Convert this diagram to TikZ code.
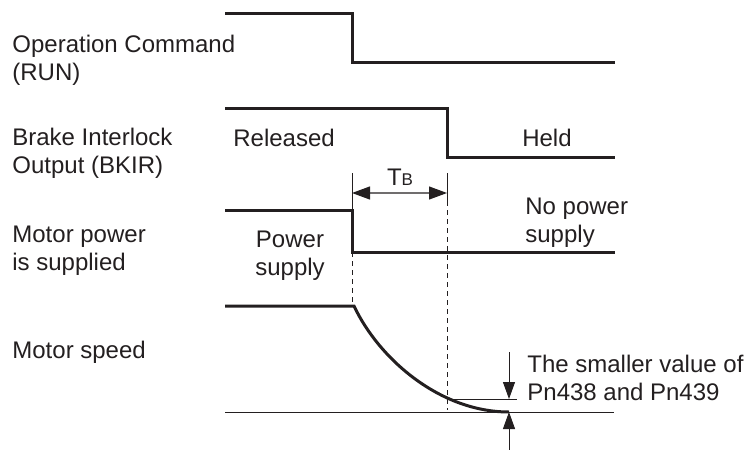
\documentclass[tikz,border=0pt]{standalone}
\usepackage{fontspec}
\setmainfont{Liberation Sans}
\usetikzlibrary{arrows.meta,positioning}
\definecolor{ink}{RGB}{35,31,32}

\begin{document}
\begin{tikzpicture}[x=0.5pt,y=-0.5pt,
    sig/.style={draw=ink,line width=1.5pt},
    fine/.style={draw=ink,line width=0.5pt},
    guide/.style={draw=ink,line width=0.5pt,dash pattern=on 2.5pt off 2pt},
    lbl/.style={font=\fontsize{12}{14}\selectfont,text=ink,
                inner sep=0pt,align=left,anchor=base west},
    tip/.style={-{Triangle[length=8.5pt,width=6pt,color=ink,fill=ink]}},
    span/.style={draw=ink!65,line width=0.6pt,
                 {Triangle[length=9pt,width=6.5pt,color=ink,fill=ink]}-{Triangle[length=9pt,width=6.5pt,color=ink,fill=ink]}}]
  \useasboundingbox (0,0) rectangle (745,450);

  % signal names (base = last line)
  \node[lbl] (cmd) at (12,80) {Operation Command\\(RUN)};
  \node[lbl] (bkir) at (12,173) {Brake Interlock\\Output (BKIR)};
  \node[lbl] (pwr) at (12,270) {Motor power\\is supplied};
  \node[lbl] (spd) at (12,358) {Motor speed};

  % waveforms
  \draw[sig] (225,13) -- (352,13) -- (352,62) -- (615,62);
  \draw[sig] (225,108) -- (447,108) -- (447,157) -- (615,157);
  \draw[sig] (225,210) -- (352,210) -- (352,252) -- (615,252);
  \draw[sig] (225,306) -- (354,306)
    .. controls (379,359) and (440,412) .. (509,412);

  \node[lbl] (rel) at (233,146) {Released};
  \node[lbl,anchor=base] (held) at (547,146) {Held};
  \node[lbl,align=center,anchor=base] (on) at (290,275) {Power\\supply};
  \node[lbl] (off) at (525,242) {No power\\supply};

  % brake delay
  \coordinate (t0) at (352,173);
  \coordinate (t1) at (447,173);
  \draw[fine] (t0) -- (352,210);
  \draw[fine] (t1) -- (447,201);
  \draw[guide] (352,252) -- (352,306);
  \draw[guide] (447,201) -- (447,410);
  \draw[span] (352,193) -- (447,193);
  \node[lbl,anchor=base] (tb) at (400,185)
    {T{\fontsize{8.5}{10}\selectfont B}};

  % speed threshold
  \draw[fine] (225,412) -- (614,412);
  \draw[fine] (447,399) -- (517,399);
  \coordinate (lim) at (509,399);
  \coordinate (zero) at (509,412);
  \draw[fine,tip] (509,352) -- (lim);
  \draw[fine,tip] (509,450) -- (zero);
  \node[lbl] (note) at (527,400) {The smaller value of\\Pn438 and Pn439};
\end{tikzpicture}
\end{document}
